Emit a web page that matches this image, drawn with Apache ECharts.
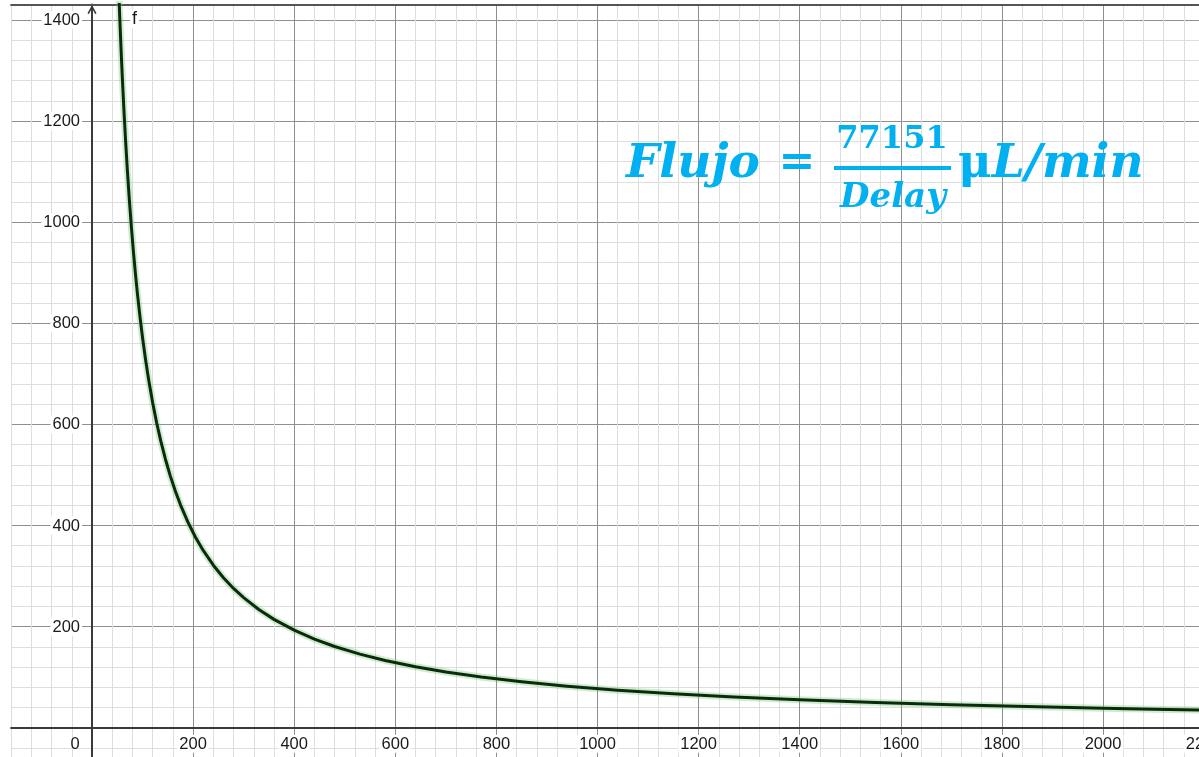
<!DOCTYPE html>
<html>
<head>
<meta charset="utf-8">
<script src="https://cdn.jsdelivr.net/npm/echarts@6/dist/echarts.min.js"></script>
<style>
html,body{margin:0;padding:0;background:#fff;}
#c{width:1199px;height:757px;}
</style>
</head>
<body>
<div id="c"></div>
<script>
// Delay values (x) and Flujo values (y) read along the curve f
const delayValues = [50, 52, 54, 56, 58, 60, 63, 66, 70, 74, 78, 82, 86, 90, 95, 100, 106, 112, 120, 128, 136, 145, 155, 165, 175, 190, 205, 220, 240, 260, 280, 300, 330, 360, 400, 440, 480, 530, 580, 640, 700, 770, 850, 940, 1040, 1150, 1270, 1400, 1550, 1700, 1850, 2000, 2100, 2200];
const flujoValues = [1543.0, 1483.7, 1428.7, 1377.7, 1330.2, 1285.9, 1224.6, 1169.0, 1102.2, 1042.6, 989.1, 940.9, 897.1, 857.2, 812.1, 771.5, 727.8, 688.8, 642.9, 602.7, 567.3, 532.1, 497.7, 467.6, 440.9, 406.1, 376.3, 350.7, 321.5, 296.7, 275.5, 257.2, 233.8, 214.3, 192.9, 175.3, 160.7, 145.6, 133.0, 120.5, 110.2, 100.2, 90.8, 82.1, 74.2, 67.1, 60.7, 55.1, 49.8, 45.4, 41.7, 38.6, 36.7, 35.1];
const seriesName = 'f';
const xTickLabels = [200, 400, 600, 800, 1000, 1200, 1400, 1600, 1800, 2000, 2200];
const yTickLabels = [200, 400, 600, 800, 1000, 1200, 1400];
const formulaNumerator = '77151';
const formulaDenominator = 'Delay';
const formulaLeft = 'Flujo';
const formulaUnitMu = 'μ';
const formulaUnitRest = 'L/min';

const points = delayValues.map((d, i) => [d, flujoValues[i]]);

const MINOR = '#dedede';
const MAJOR = '#8f8f8f';
const AXIS = '#3a3a3a';
const LABEL = '#1a1a1a';
const BLUE = '#00B0F0';

const chart = echarts.init(document.getElementById('c'), null, {renderer: 'canvas'});

const labelRich = {
  b: {backgroundColor: '#fff', padding: [1, 2, 0, 2], color: LABEL, fontSize: 16.5, fontFamily: 'Liberation Sans, Arial, sans-serif'},
  z: {padding: [1, 34, 0, 0], color: LABEL, fontSize: 16.5, fontFamily: 'Liberation Sans, Arial, sans-serif'}
};

const option = {
  backgroundColor: '#fff',
  animation: false,
  grid: {left: 11.12, top: 4.5, right: -5.1, bottom: -11.14, containLabel: false, outerBoundsMode: 'none'},
  xAxis: [{
    type: 'value', min: -160, max: 2200, interval: 40, position: 'bottom', offset: -40.44,
    axisLine: {onZero: false, lineStyle: {color: AXIS, width: 2}},
    axisTick: {show: false},
    splitLine: {show: true, lineStyle: {color: [MINOR, MINOR, MINOR, MINOR, MAJOR], width: 1}},
    axisLabel: {
      margin: 7, showMaxLabel: true, showMinLabel: false,
      formatter: v => v === 0 ? '{z|0}' : (xTickLabels.indexOf(v) >= 0 ? '{b|' + v + '}' : ''),
      rich: labelRich
    }
  }, {
    type: 'value', min: -160, max: 2200, position: 'top',
    axisLine: {onZero: false, show: true, lineStyle: {color: '#555', width: 2}},
    axisTick: {show: false}, axisLabel: {show: false}, splitLine: {show: false}
  }],
  yAxis: {
    type: 'value', min: -80, max: 1430.7, interval: 40, position: 'left', offset: -80.88,
    axisLine: {onZero: false, lineStyle: {color: AXIS, width: 2},
      symbol: ['none', 'path://M0,9 L5,0 L10,9 L8.4,9.9 L5,3.6 L1.6,9.9 Z'], symbolSize: [12, 9], symbolOffset: [0, -5]},
    axisTick: {show: false},
    splitLine: {show: true, showMaxLine: false, lineStyle: {color: [MINOR, MINOR, MAJOR, MINOR, MINOR], width: 1}},
    axisLabel: {
      margin: 10,
      formatter: v => yTickLabels.indexOf(v) >= 0 ? '{b|' + v + '}' : '',
      rich: labelRich
    }
  },
  series: [{
    name: seriesName + '-halo', type: 'line', data: points, showSymbol: false, smooth: false,
    lineStyle: {color: 'rgba(120,200,120,0.35)', width: 7, join: 'round'}, z: 2, silent: true
  }, {
    name: seriesName, type: 'line', data: points, showSymbol: false, smooth: false,
    lineStyle: {color: '#0c2a0c', width: 3, join: 'round'}, z: 3
  }],
  graphic: [
    {type: 'text', left: 130, top: 10, z: 10,
      style: {text: seriesName, fill: LABEL, fontSize: 18, fontFamily: 'Liberation Sans, Arial, sans-serif', backgroundColor: '#fff', padding: [0, 2]}},
    {type: 'text', x: 626, y: 165, z: 10,
      style: {text: formulaLeft, fill: BLUE, fontSize: 47, fontWeight: 'bold', fontStyle: 'italic', fontFamily: 'DejaVu Serif', align: 'left', verticalAlign: 'middle'}},
    {type: 'text', x: 797, y: 165, z: 10,
      style: {text: '=', fill: BLUE, fontSize: 44, fontWeight: 'bold', fontFamily: 'DejaVu Serif', align: 'center', verticalAlign: 'middle'}},
    {type: 'text', x: 892, y: 140, z: 10,
      style: {text: formulaNumerator, fill: BLUE, fontSize: 32, fontWeight: 'bold', fontFamily: 'DejaVu Serif', align: 'center', verticalAlign: 'middle'}},
    {type: 'rect', shape: {x: 834, y: 166, width: 117, height: 4}, style: {fill: BLUE}, z: 10},
    {type: 'text', x: 893, y: 198, z: 10,
      style: {text: formulaDenominator, fill: BLUE, fontSize: 34, fontWeight: 'bold', fontStyle: 'italic', fontFamily: 'DejaVu Serif', align: 'center', verticalAlign: 'middle'}},
    {type: 'text', x: 958, y: 165, z: 10,
      style: {text: '{a|' + formulaUnitMu + '}{b|' + formulaUnitRest + '}', align: 'left', verticalAlign: 'middle',
        rich: {
          a: {fill: BLUE, color: BLUE, fontSize: 46, fontFamily: 'DejaVu Serif', fontWeight: 'bold'},
          b: {fill: BLUE, color: BLUE, fontSize: 47, fontWeight: 'bold', fontStyle: 'italic', fontFamily: 'DejaVu Serif'}
        }}}
  ]
};
chart.setOption(option);
</script>
</body>
</html>
